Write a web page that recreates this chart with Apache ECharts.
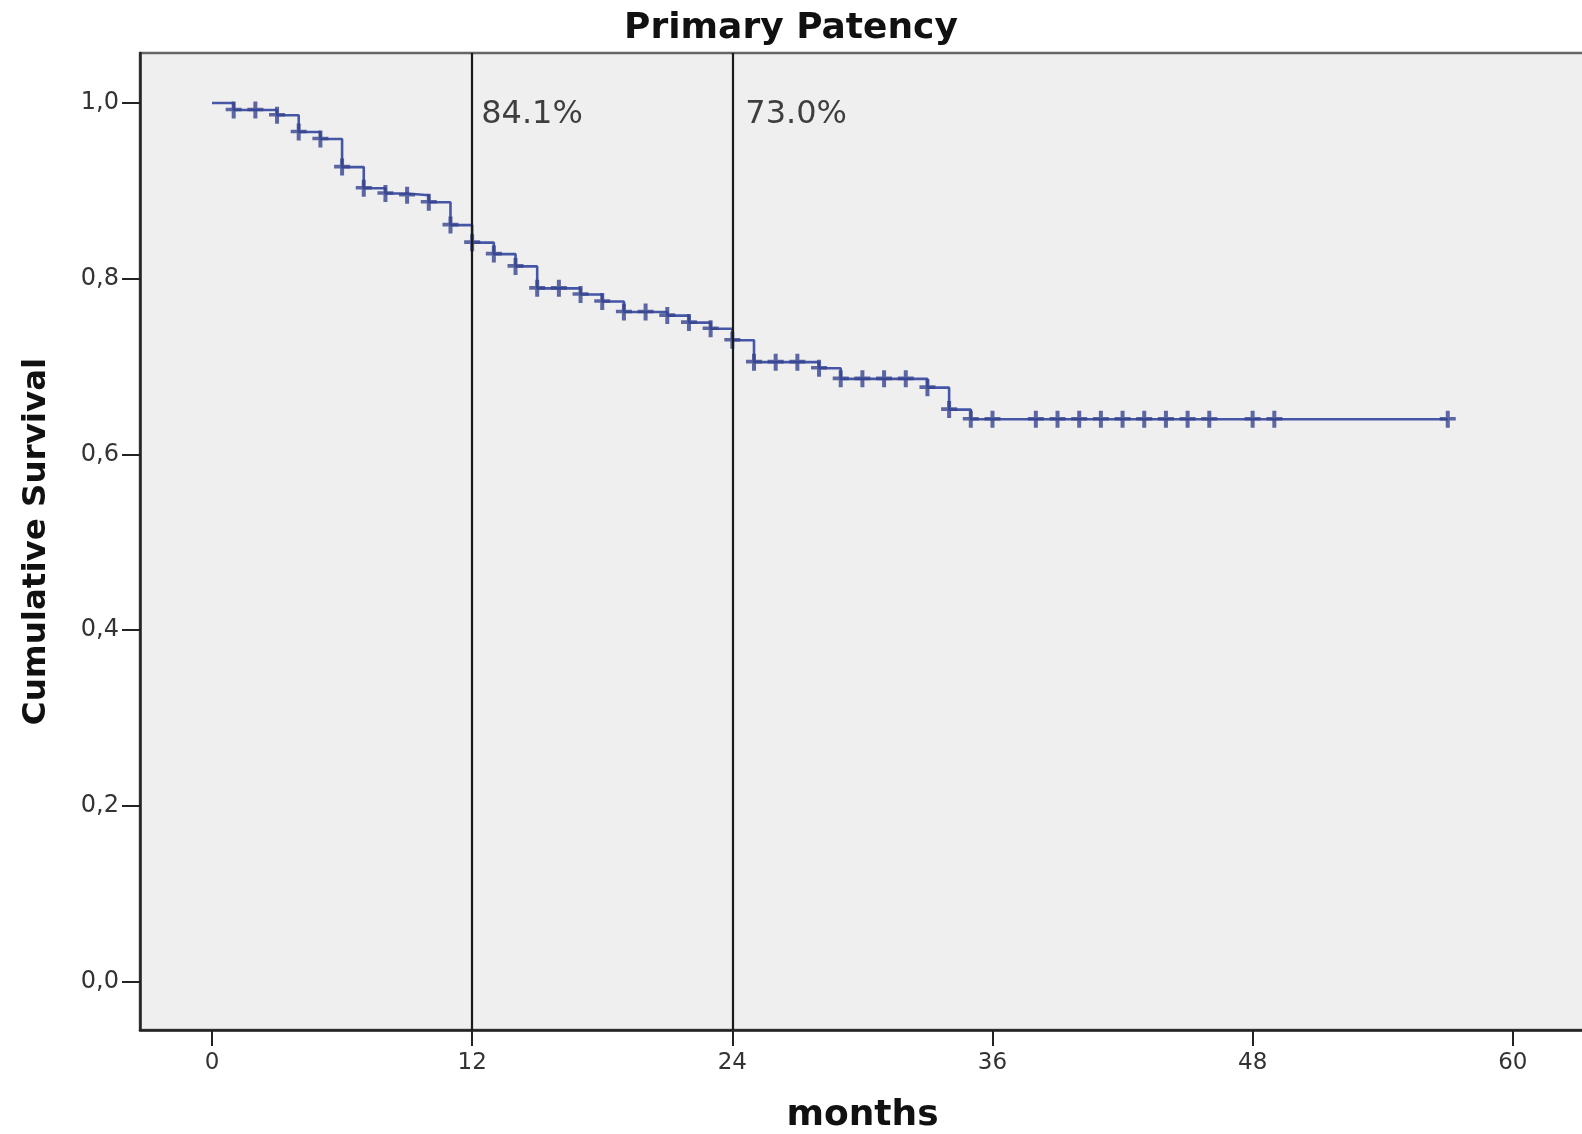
<!DOCTYPE html>
<html>
<head>
<meta charset="utf-8">
<script src="https://cdn.jsdelivr.net/npm/echarts@6/dist/echarts.min.js"></script>
<style>
  html, body { margin: 0; padding: 0; background: #fff; }
  #chart { width: 1582px; height: 1134px; }
</style>
</head>
<body>
<div id="chart"></div>
<script>
// Kaplan-Meier steps (months, cumulative survival after the step)
const stepTimes = [0, 1, 3, 4, 5, 6, 7, 8, 9, 10, 11, 12, 13, 14, 15, 17, 18, 19, 21, 22, 23, 24, 25, 28, 29, 33, 34, 35, 57];
const stepSurvival = [1.0, 0.992, 0.986, 0.967, 0.959, 0.927, 0.903, 0.897, 0.895, 0.887, 0.861, 0.841, 0.828, 0.814, 0.789, 0.782, 0.774, 0.762, 0.758, 0.750, 0.743, 0.730, 0.705, 0.698, 0.686, 0.676, 0.651, 0.640, 0.640];

// censored observations (months)
const censorTimes = [1, 2, 3, 4, 5, 6, 7, 8, 9, 10, 11, 12, 13, 14, 15, 16, 17, 18, 19, 20, 21, 22, 23, 24, 25, 26, 27, 28, 29, 30, 31, 32, 33, 34, 35, 36, 38, 39, 40, 41, 42, 43, 44, 45, 46, 48, 49, 57];

// reference lines and their labels
const refMonths = [12, 24];
const refLabels = ['84.1%', '73.0%'];

const xTicks = [0, 12, 24, 36, 48, 60];
const yTicks = [0, 0.2, 0.4, 0.6, 0.8, 1.0];

// survival value at time t (step function lookup)
function survivalAt(t) {
  let s = stepSurvival[0];
  stepTimes.forEach((st, i) => { if (st <= t) s = stepSurvival[i]; });
  return s;
}

const lineData = stepTimes.map((t, i) => [t, stepSurvival[i]]);
const censorData = censorTimes.map(t => [t, survivalAt(t)]);
const labelOffsets = [9, 13];
const labelData = refMonths.map((m, i) => ({
  value: [m, 0.987], name: refLabels[i],
  label: { distance: labelOffsets[i] },
}));

const font = 'DejaVu Sans';
const chart = echarts.init(document.getElementById('chart'), null, { renderer: 'canvas' });

chart.setOption({
  backgroundColor: '#ffffff',
  animation: false,
  title: {
    text: 'Primary Patency',
    left: 'center',
    top: 6,
    textStyle: { fontFamily: font, fontSize: 36, fontWeight: 'bold', color: '#111' },
  },
  grid: {
    left: 140, top: 53, width: 1445, height: 977,
    outerBoundsMode: 'none',
    containLabel: false,
    show: true, backgroundColor: '#efefef',
    borderColor: '#666', borderWidth: 2.5,
  },
  xAxis: {
    type: 'value',
    min: -3.321, max: 63.33,
    name: 'months',
    nameLocation: 'middle',
    nameGap: 68,
    nameTextStyle: { fontFamily: font, fontSize: 36, fontWeight: 'bold', color: '#111' },
    splitLine: { show: false },
    axisLine: { show: true, onZero: false, lineStyle: { color: '#222', width: 2.5 } },
    axisTick: { show: true, length: 16, customValues: xTicks, lineStyle: { color: '#222', width: 2 } },
    axisLabel: { customValues: xTicks, margin: 22, fontFamily: font, fontSize: 23, color: '#333' },
  },
  yAxis: {
    type: 'value',
    min: -0.0552, max: 1.0569,
    name: 'Cumulative Survival',
    nameLocation: 'middle',
    nameRotate: 90,
    nameGap: 87,
    nameTextStyle: { fontFamily: font, fontSize: 32.5, fontWeight: 'bold', color: '#111' },
    splitLine: { show: false },
    axisLine: { show: true, onZero: false, lineStyle: { color: '#222', width: 2.5 } },
    axisTick: { show: true, length: 18, customValues: yTicks, lineStyle: { color: '#222', width: 2 } },
    axisLabel: {
      customValues: yTicks, margin: 21, fontFamily: font, fontSize: 24, color: '#333',
      formatter: v => v.toFixed(1).replace('.', ','),
    },
  },
  series: [
    {
      name: 'Survival',
      type: 'line',
      step: 'end',
      data: lineData,
      symbol: 'none',
      lineStyle: { color: '#4656a6', width: 2.6 },
      z: 3,
      markLine: {
        silent: true,
        symbol: 'none',
        label: { show: false },
        lineStyle: { color: '#1a1a1a', width: 2.2, type: 'solid' },
        data: refMonths.map(m => ({ xAxis: m })),
      },
    },
    {
      name: 'Censored',
      type: 'scatter',
      data: censorData,
      symbol: 'path://M6,0H10V6.2H16V9.8H10V17H6V9.8H0V6.2H6Z',
      symbolSize: [16, 17],
      itemStyle: { color: '#36448f' },
      z: 4,
    },
    {
      name: 'Labels',
      type: 'scatter',
      data: labelData,
      symbolSize: 0,
      label: {
        show: true,
        position: 'right',
        formatter: p => p.name,
        fontFamily: font, fontSize: 32, color: '#111',
      },
      z: 5,
    },
  ],
});
window.addEventListener('resize', () => chart.resize());
</script>
</body>
</html>
